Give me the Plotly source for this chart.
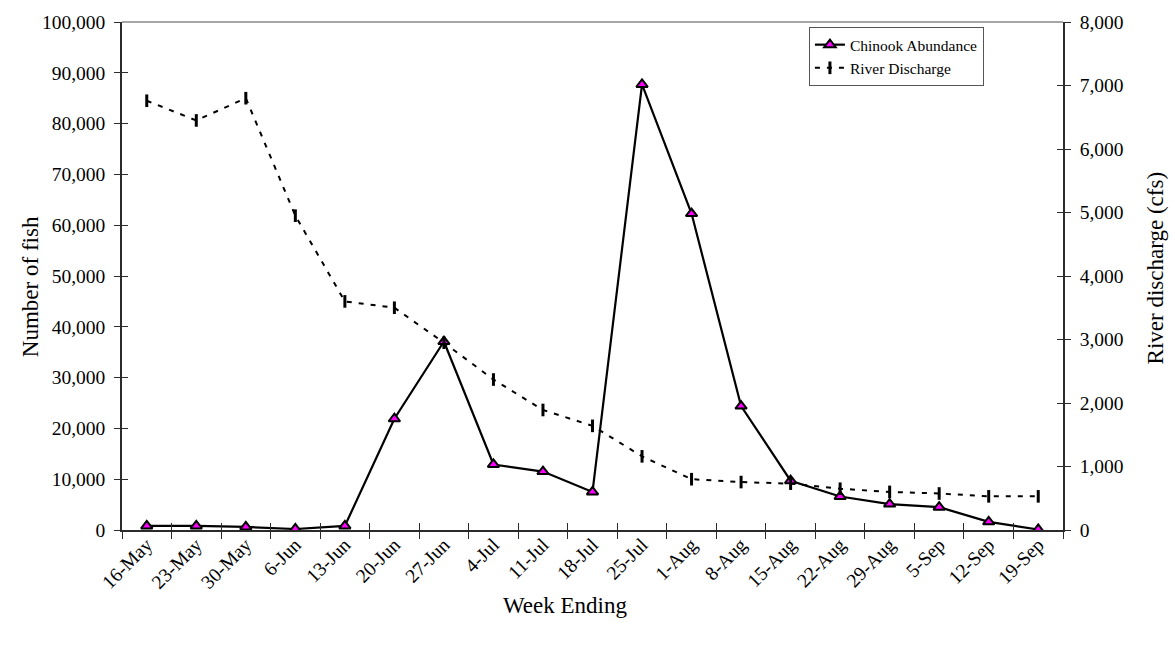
import plotly.graph_objects as go

weeks = ["16-May", "23-May", "30-May", "6-Jun", "13-Jun", "20-Jun", "27-Jun", "4-Jul",
         "11-Jul", "18-Jul", "25-Jul", "1-Aug", "8-Aug", "15-Aug", "22-Aug", "29-Aug",
         "5-Sep", "12-Sep", "19-Sep"]
chinook = [800, 800, 600, 200, 800, 21900, 37100, 12900, 11500, 7500, 87700, 62300,
           24400, 9700, 6600, 5100, 4500, 1600, 100]
discharge = [6760, 6450, 6800, 4950, 3600, 3500, 2950, 2370, 1890, 1640, 1160, 800,
             755, 730, 650, 600, 575, 530, 530]

FONT = "'Times New Roman', 'Liberation Serif', serif"
AX = "#2b2b2b"

fig = go.Figure()
fig.add_trace(go.Scatter(
    x=weeks, y=discharge, name="River Discharge", yaxis="y2",
    mode="lines+markers",
    line=dict(color="black", width=2, dash="5px,7px"),
    marker=dict(symbol="line-ns", size=9, line=dict(color="black", width=3)),
))
fig.add_trace(go.Scatter(
    x=weeks, y=chinook, name="Chinook Abundance",
    mode="lines+markers",
    line=dict(color="black", width=2.2),
    marker=dict(symbol="triangle-up", size=10, color="#ff00ff",
                line=dict(color="black", width=2)),
))

common_tick = dict(family=FONT, size=19.5, color="black")
title_font = dict(family=FONT, size=23, color="black")
fig.update_layout(
    width=1175, height=648,
    margin=dict(l=122, r=112, t=18, b=118),
    paper_bgcolor="white", plot_bgcolor="white",
    font=dict(family=FONT, color="black"),
    showlegend=True,
    legend=dict(x=0.73, y=0.99, xanchor="left", yanchor="top",
                bgcolor="white", bordercolor="#555", borderwidth=1,
                font=dict(family=FONT, size=15.5, color="black"),
                traceorder="reversed", tracegroupgap=0),
    xaxis=dict(
        type="category", range=[-0.5, 18.5], tickangle=-45,
        tickfont=common_tick, ticks="outside", ticklen=7, tickwidth=1,
        tickcolor=AX, tickson="boundaries", ticklabelstandoff=-6,
        showline=True, linecolor=AX, linewidth=1.5, showgrid=False,
    ),
    yaxis=dict(
        range=[0, 100000], dtick=10000, tickformat=",d",
        tickfont=common_tick, ticks="outside", ticklen=6, tickcolor=AX,
        ticklabelstandoff=5,
        showline=True, linecolor=AX, linewidth=1.5, showgrid=False, zeroline=False,
    ),
    yaxis2=dict(
        range=[0, 8000], dtick=1000, tickformat=",d", overlaying="y", side="right",
        tickfont=common_tick, ticks="outside", ticklen=6, tickcolor=AX,
        ticklabelstandoff=5,
        showline=True, linecolor=AX, linewidth=1.5, showgrid=False, zeroline=False,
    ),
    # inner halves of crossing tick marks
    xaxis2=dict(type="category", range=[-0.5, 18.5], overlaying="x",
                ticks="inside", ticklen=7, tickcolor=AX, tickson="boundaries",
                showticklabels=False, showgrid=False, showline=False, anchor="y"),
    yaxis3=dict(range=[0, 100000], dtick=10000, overlaying="y", ticks="inside",
                ticklen=6, tickcolor=AX, showticklabels=False, showgrid=False,
                zeroline=False, showline=False, anchor="x"),
    yaxis4=dict(range=[0, 8000], dtick=1000, overlaying="y", side="right", ticks="inside",
                ticklen=6, tickcolor=AX, showticklabels=False, showgrid=False,
                zeroline=False, showline=False, anchor="x"),
    shapes=[dict(type="line", xref="paper", yref="paper", x0=0, x1=1, y0=1, y1=1,
                 line=dict(color="#888", width=1.5))],
    annotations=[
        dict(text="Number of fish", xref="paper", yref="paper", x=-0.0978, y=0.48,
             textangle=-90, showarrow=False, font=title_font,
             xanchor="center", yanchor="middle"),
        dict(text="River discharge (cfs)", xref="paper", yref="paper", x=1.0978, y=0.515,
             textangle=-90, showarrow=False, font=title_font,
             xanchor="center", yanchor="middle"),
        dict(text="Week Ending", xref="paper", yref="paper", x=0.4708, y=-0.148,
             showarrow=False, font=title_font, xanchor="center", yanchor="middle"),
    ],
)
# invisible helper traces to activate the extra tick axes
fig.add_trace(go.Scatter(x=weeks, y=[None] * len(weeks), xaxis="x2", yaxis="y3",
                         showlegend=False, hoverinfo="skip"))
fig.add_trace(go.Scatter(x=weeks, y=[None] * len(weeks), xaxis="x", yaxis="y4",
                         showlegend=False, hoverinfo="skip"))

fig.write_html("out.html")
